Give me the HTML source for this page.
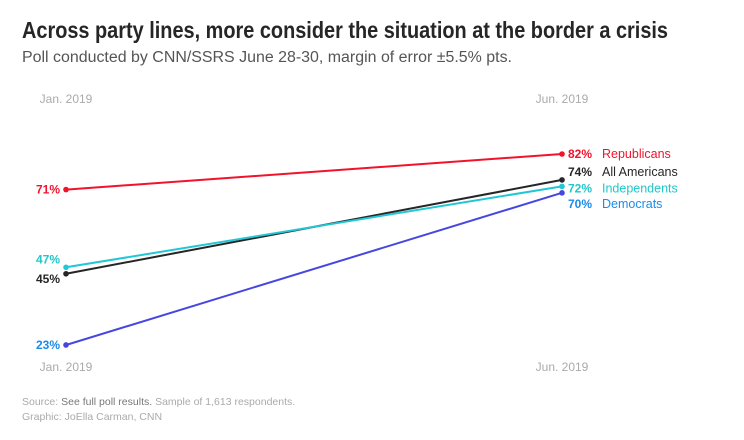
<!DOCTYPE html>
<html><head><meta charset="utf-8"><style>
body{margin:0;background:#fff;width:744px;height:435px;overflow:hidden;font-family:"Liberation Sans",sans-serif}
svg text{font-family:"Liberation Sans",sans-serif}
</style></head><body>
<svg width="744" height="435">
<text x="22" y="38" font-size="23" font-weight="bold" fill="#262626" textLength="646" lengthAdjust="spacingAndGlyphs">Across party lines, more consider the situation at the border a crisis</text>
<text x="22" y="62" font-size="15.5" fill="#555" textLength="490" lengthAdjust="spacingAndGlyphs">Poll conducted by CNN/SSRS June 28-30, margin of error ±5.5% pts.</text>
<text x="66" y="103" font-size="12" fill="#aaa" text-anchor="middle">Jan. 2019</text>
<text x="562" y="103" font-size="12" fill="#aaa" text-anchor="middle">Jun. 2019</text>
<text x="66" y="371" font-size="12" fill="#aaa" text-anchor="middle">Jan. 2019</text>
<text x="562" y="371" font-size="12" fill="#aaa" text-anchor="middle">Jun. 2019</text>
<g id="marks"></g>
<text x="22" y="405" font-size="10.5" fill="#aaa">Source: <tspan fill="#777">See full poll results.</tspan> Sample of 1,613 respondents.</text>
<text x="22" y="420" font-size="10.5" fill="#aaa">Graphic: JoElla Carman, CNN</text>
</svg>
<script>
const series = ["Republicans","All Americans","Independents","Democrats"];
const janValues = [71,45,47,23];
const junValues = [82,74,72,70];
const lineColors = ["#f2132b","#262626","#22c7d6","#4747e0"];
const labelColors = ["#f2132b","#262626","#22c7c9","#1c8be8"];
const x = i => 66 + i*496;
const y = v => 154 + (82 - v)*3.237;
const ns="http://www.w3.org/2000/svg", g=document.getElementById('marks');
function mk(t,a){const e=document.createElementNS(ns,t);for(const k in a)e.setAttribute(k,a[k]);g.appendChild(e);return e;}
const janOff=[4,9,-4,4], junOff=[4,-4,6,15];
series.forEach((s,i)=>{
  const l=mk('line',{x1:x(0),y1:y(janValues[i]),x2:x(1),y2:y(junValues[i]),stroke:lineColors[i],'stroke-width':2});
  
  
  [0,1].forEach(k=>{
    const v=k?junValues[i]:janValues[i];
    const c=mk('circle',{cx:x(k),cy:y(v),r:2.8,fill:lineColors[i]});
    
    
  });
  const t=mk('text',{x:x(0)-6,y:y(janValues[i])+janOff[i],'font-size':12,'font-weight':'bold',fill:labelColors[i],'text-anchor':'end'});
  t.textContent=janValues[i]+'%';
  
  
  const t2=mk('text',{x:x(1)+6,y:y(junValues[i])+junOff[i],'font-size':12,'font-weight':'bold',fill:labelColors[i]});
  t2.textContent=junValues[i]+'%';
  
  
  const t3=mk('text',{x:x(1)+40,y:y(junValues[i])+junOff[i],'font-size':12.5,fill:labelColors[i]});
  t3.textContent=s;
  
  
});
</script>
</body></html>
